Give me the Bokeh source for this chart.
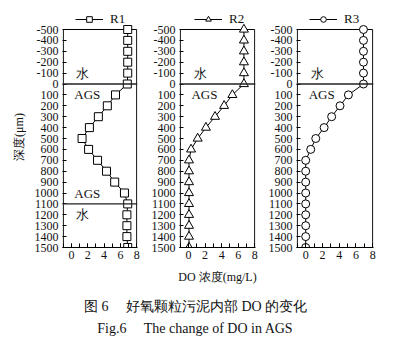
from bokeh.plotting import figure
from bokeh.layouts import row, column
from bokeh.models import (Range1d, FixedTicker, SingleIntervalTicker, Span, Label,
                          Legend, LegendItem)
from bokeh.embed import file_html
from bokeh.resources import INLINE

# ---------------- data ----------------
depth = [-500, -400, -300, -200, -100, 0, 100, 200, 300, 400, 500,
         600, 700, 800, 900, 1000, 1100, 1200, 1300, 1400, 1500]
r1 = [6.9, 6.9, 6.9, 6.9, 6.9, 6.85, 5.4, 4.4, 3.3, 2.2, 1.3,
      2.1, 3.2, 4.3, 5.3, 6.5, 6.9, 6.8, 6.8, 6.8, 6.9]
r2 = [6.7, 6.7, 6.7, 6.7, 6.7, 6.7, 5.3, 4.3, 3.2, 2.1, 1.1,
      0.3, 0.05, 0.05, 0.05, 0.05, 0.05, 0.05, 0.05, 0.05, 0.05]
r3 = [6.9, 6.9, 6.9, 6.9, 6.9, 6.9, 5.1, 4.1, 3.1, 2.2, 1.2,
      0.6, 0.0, 0.0, 0.0, 0.0, 0.0, 0.0, 0.0, 0.0, 0.0]
series_names = ["R1", "R2", "R3"]
y_ticks = depth
y_tick_labels = {t: str(t) for t in y_ticks}
x_min, x_max = -1, 8
y_top, y_bottom = -500, 1500
r1_boundaries = [0, 1100]
r2_boundaries = [0]
r3_boundaries = [0]
r1_zone_labels = [("水", -100), ("AGS", 100), ("AGS", 1000), ("水", 1200)]
r2_zone_labels = [("水", -100), ("AGS", 100)]
r3_zone_labels = [("水", -100), ("AGS", 100)]
x_label = "DO 浓度(mg/L)"
y_label = "深度(μm)"
caption_cn = "图 6\u2003 好氧颗粒污泥内部 DO 的变化"
caption_en = "Fig.6\u2003 The change of DO in AGS"

SERIF = "Liberation Serif"
INK = "#111111"
# extra headroom (in px) above the box, inside the frame, for the legend
HEAD_PX = 21
BOX_PX = 218
Y_FRAME_TOP = y_top - HEAD_PX * (y_bottom - y_top) / BOX_PX
X_PAD = 0.1  # keeps the box's side lines inside the clipped frame


def make_panel(vals, marker, msize, name, bounds, zlabels,
               w, bl, br, leg_x, xlabel=None, ylabel=None):
    p = figure(width=w, height=290,
               min_border_left=bl, min_border_right=br,
               min_border_top=29 - HEAD_PX, min_border_bottom=43,
               x_range=Range1d(x_min - X_PAD, x_max + X_PAD),
               y_range=Range1d(y_bottom, Y_FRAME_TOP),
               output_backend="svg", toolbar_location=None)
    p.grid.visible = False
    p.background_fill_color = "white"
    p.border_fill_color = "white"
    p.outline_line_color = None

    # plot box
    p.quad(left=[x_min], right=[x_max], top=[y_top], bottom=[y_bottom],
           fill_color=None, line_color="black", line_width=1)

    ln = p.line(vals, depth, line_color="black", line_width=1)
    sc = p.scatter(vals, depth, marker=marker, size=msize,
                   fill_color="white", line_color="black", line_width=1)

    for b in bounds:
        p.add_layout(Span(location=b, dimension="width",
                          line_color="#222222", line_width=1.3))
    for txt, yv in zlabels:
        xv = 0.6 if txt == "水" else 0.35
        p.add_layout(Label(x=xv, y=yv, text=txt, text_font=SERIF,
                           text_font_size="13px", text_baseline="middle",
                           text_align="left", text_color=INK))

    xa = p.xaxis[0]
    xa.ticker = SingleIntervalTicker(interval=2, num_minor_ticks=2)
    xa.major_tick_in = 4
    xa.major_tick_out = 0
    xa.minor_tick_in = 4
    xa.minor_tick_out = 0
    xa.major_tick_line_color = "black"
    xa.minor_tick_line_color = "black"
    xa.major_label_text_font = SERIF
    xa.major_label_text_font_size = "12px"
    xa.major_label_text_color = INK
    xa.major_label_standoff = 3
    xa.axis_line_color = "black"
    if xlabel:
        xa.axis_label = xlabel
        xa.axis_label_text_font = SERIF
        xa.axis_label_text_font_size = "12px"
        xa.axis_label_text_font_style = "normal"
        xa.axis_label_text_color = INK
        xa.axis_label_standoff = 8

    ya = p.yaxis[0]
    ya.ticker = FixedTicker(ticks=y_ticks)
    ya.major_label_overrides = y_tick_labels
    ya.major_tick_in = 4
    ya.major_tick_out = 0
    ya.major_tick_line_color = "black"
    ya.minor_tick_line_color = None
    ya.major_label_text_font = SERIF
    ya.major_label_text_font_size = "12px"
    ya.major_label_text_color = INK
    ya.major_label_standoff = 4
    ya.axis_line_color = None
    if ylabel:
        ya.axis_label = ylabel + "\u2002\u2002\u2002"
        ya.axis_label_text_font = SERIF
        ya.axis_label_text_font_size = "12px"
        ya.axis_label_text_font_style = "normal"
        ya.axis_label_text_color = INK
        ya.axis_label_standoff = 6

    leg = Legend(items=[LegendItem(label=name, renderers=[ln, sc])],
                 orientation="horizontal", location=(leg_x, BOX_PX + 2),
                 border_line_color=None, background_fill_alpha=0,
                 label_text_font=SERIF, label_text_font_size="13px",
                 label_text_color=INK,
                 glyph_width=28, glyph_height=14, padding=0, margin=0,
                 spacing=0, label_standoff=7, label_height=14)
    p.add_layout(leg, "center")
    return p


p1 = make_panel(r1, "square", 8, series_names[0], r1_boundaries, r1_zone_labels,
                145, 62, 8, 13, ylabel=y_label)
p2 = make_panel(r2, "triangle", 9, series_names[1], r2_boundaries, r2_zone_labels,
                118, 34, 8, 15, xlabel=x_label)
p3 = make_panel(r3, "circle", 8, series_names[2], r3_boundaries, r3_zone_labels,
                130, 33, 20, 13)

cap = figure(width=393, height=63, x_range=Range1d(0, 393), y_range=Range1d(0, 63),
             output_backend="svg", toolbar_location=None,
             min_border_left=0, min_border_right=0,
             min_border_top=0, min_border_bottom=0)
cap.axis.visible = False
cap.grid.visible = False
cap.outline_line_color = None
cap.add_layout(Label(x=195, y=47, text=caption_cn, text_font=SERIF,
                     text_font_size="14px", text_align="center",
                     text_baseline="middle", text_color=INK))
cap.add_layout(Label(x=195, y=25, text=caption_en, text_font=SERIF,
                     text_font_size="14px", text_align="center",
                     text_baseline="middle", text_color=INK))

layout = column(row(p1, p2, p3), cap)
open("out.html", "w").write(file_html(layout, INLINE))
